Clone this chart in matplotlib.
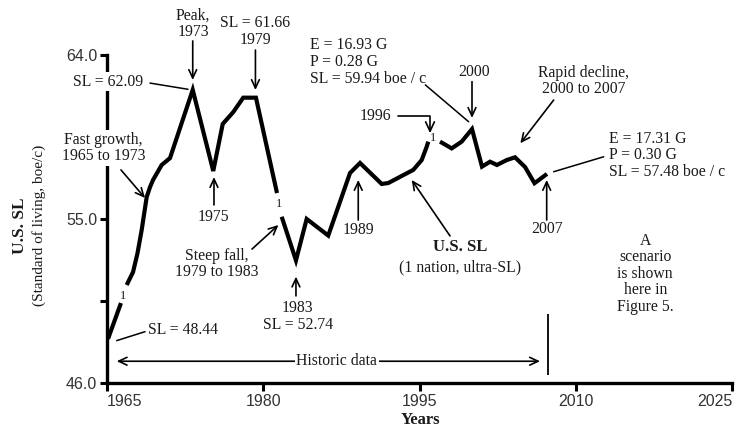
import numpy as np
import matplotlib
matplotlib.use("Agg")
import matplotlib.pyplot as plt

# ---------------- data ----------------
years = [1965.10, 1966.34, np.nan,
         1966.89, 1967.50, 1967.93, 1968.33, 1968.81, 1969.13, 1969.42,
         1970.25, 1971.05, 1973.23, 1975.20, 1976.11, 1977.12, 1978.08,
         1979.30, 1981.32, np.nan,
         1981.77, 1983.14, 1984.17, 1986.24, 1988.33, 1989.29, 1991.37,
         1992.00, 1994.40, 1995.21, 1995.69, 1995.84, np.nan,
         1996.97, 1998.09, 1999.05, 2000.04, 2001.00, 2001.77, 2002.44,
         2003.37, 2004.17, 2005.13, 2006.04, 2007.24]
sl = [48.44, 50.40, np.nan,
      51.39, 52.10, 53.14, 54.41, 56.21, 56.76, 57.15,
      57.97, 58.35, 62.09, 57.64, 60.22, 60.87, 61.66,
      61.66, 56.43, np.nan,
      55.13, 52.74, 55.01, 54.10, 57.53, 58.08, 56.93,
      56.98, 57.70, 58.24, 58.97, 59.25, np.nan,
      59.25, 58.88, 59.25, 59.94, 57.88, 58.15, 57.97,
      58.24, 58.39, 57.86, 56.97, 57.48]

# footnote "1" markers at the breaks of the curve
fn_years = [1966.51, 1981.49, 1996.32]
fn_sl = [50.79, 55.83, 59.43]

x_ticks = [1965, 1980, 1995, 2010, 2025]
x_tick_labels = ["1965", "1980", "1995", "2010", "2025"]
y_ticks = [46.0, 50.5, 55.0, 59.5, 64.0]
y_tick_labels = ["46.0", "", "55.0", "", "64.0"]
historic_end = 2007.31

# ---------------- figure ----------------
W, H = 744, 428
fig = plt.figure(figsize=(W / 100, H / 100), dpi=100)
fig.patch.set_facecolor("white")
ax = fig.add_axes([107 / W, 1 - 383.3 / H, (732 - 107) / W, (383.3 - 55) / H])

SERIF = ["Liberation Serif", "DejaVu Serif"]
SANS = ["Liberation Sans", "DejaVu Sans"]
TC = "#1a1a1a"
FS = 11.3

ax.plot(years, sl, color="black", lw=3.0, solid_joinstyle="miter",
        solid_capstyle="butt", zorder=4)

ax.set_xlim(1965, 2025)
ax.set_ylim(46, 64)
for s in ("top", "right"):
    ax.spines[s].set_visible(False)
for s in ("left", "bottom"):
    ax.spines[s].set_linewidth(2.4)
    ax.spines[s].set_color("black")
ax.set_xticks(x_ticks)
xl = ax.set_xticklabels(x_tick_labels, family=SANS, fontsize=11.5, color="#333333")
xl[0].set_ha("left")
xl[-1].set_ha("right")
ax.set_yticks(y_ticks)
ax.set_yticklabels(y_tick_labels, family=SANS, fontsize=11.5, color="#333333")
ax.tick_params(axis="both", direction="out", length=5, width=2.2, pad=2)
ax.tick_params(axis="x", length=6)
ax.patch.set_alpha(0)

# axis titles
fig.text(20 / W, 1 - 226 / H, "U.S. SL", rotation=90, ha="center", va="center",
         family=SERIF, fontsize=12.5, fontweight="bold", color=TC)
fig.text(39 / W, 1 - 225 / H, "(Standard of living, boe/c)", rotation=90,
         ha="center", va="center", family=SERIF, fontsize=11, color=TC)
fig.text(420 / W, 1 - 420 / H, "Years", ha="center", va="center",
         family=SERIF, fontsize=12, fontweight="bold", color=TC)

# ---------------- annotations ----------------
def txt(x, y, s, ha="center", box=False, **kw):
    kw.setdefault("fontsize", FS)
    t = ax.text(x, y, s, ha=ha, va="center", family=SERIF, color=TC,
                linespacing=1.05, clip_on=False, zorder=6, **kw)
    if box:
        t.set_bbox(dict(facecolor="white", edgecolor="none", pad=1.0))
    return t

AP = dict(arrowstyle="->,head_length=0.6,head_width=0.28", lw=1.2,
          color="black", shrinkA=0, shrinkB=0)
LP = dict(arrowstyle="-", lw=1.1, color="black", shrinkA=0, shrinkB=0)

def arrow(x0, y0, x1, y1):
    ax.annotate("", xy=(x1, y1), xytext=(x0, y0), arrowprops=AP,
                annotation_clip=False, zorder=5)

def leader(x0, y0, x1, y1):
    ax.annotate("", xy=(x1, y1), xytext=(x0, y0), arrowprops=LP,
                annotation_clip=False, zorder=5)

txt(1973.26, 65.70, "Peak,\n1973")
arrow(1973.23, 64.77, 1973.23, 62.63)

txt(1979.21, 65.29, "SL = 61.66\n1979")
arrow(1979.25, 64.27, 1979.25, 62.08)

txt(1965.12, 62.54, "SL = 62.09", box=True)
leader(1969.13, 62.46, 1972.78, 62.12)

txt(1964.64, 58.90, "Fast growth,\n1965 to 1973", box=True)
arrow(1966.34, 57.70, 1968.65, 56.16)

txt(1975.18, 55.12, "1975")
arrow(1975.27, 55.78, 1975.27, 57.31)

txt(1975.53, 52.54, "Steep fall,\n1979 to 1983")
arrow(1978.92, 53.36, 1981.46, 54.68)

txt(1983.31, 49.66, "1983\nSL = 52.74")
arrow(1983.14, 50.79, 1983.14, 51.85)

txt(1989.12, 54.41, "1989")
arrow(1989.12, 54.95, 1989.12, 57.15)

ax.annotate("1996", xy=(1996.01, 59.71), xytext=(1990.73, 60.66),
            ha="center", va="center", family=SERIF, fontsize=FS, color=TC,
            annotation_clip=False, zorder=6,
            arrowprops=dict(arrowstyle="->,head_length=0.6,head_width=0.28",
                            lw=1.2, color="black", shrinkA=3, shrinkB=0,
                            connectionstyle="angle,angleA=0,angleB=90,rad=0"))

txt(1984.49, 63.62, "E = 16.93 G\nP = 0.28 G\nSL = 59.94 boe / c", ha="left")
leader(1995.56, 62.36, 1999.72, 60.34)

txt(2000.2, 63.08, "2000")
arrow(2000.04, 62.54, 2000.04, 60.55)

txt(2010.76, 62.57, "Rapid decline,\n2000 to 2007")
arrow(2007.88, 61.53, 2004.68, 59.16)

txt(2013.16, 58.49, "E = 17.31 G\nP = 0.30 G\nSL = 57.48 boe / c", ha="left")
leader(2007.88, 57.60, 2012.68, 58.42)

txt(2007.24, 54.46, "2007")
arrow(2007.21, 54.95, 2007.21, 57.15)

txt(1998.92, 53.46, "U.S. SL", fontweight="bold", fontsize=12)
txt(1998.92, 52.36, "(1 nation, ultra-SL)")
arrow(1997.93, 54.08, 1994.25, 57.15)

txt(2016.67, 52.0, "A\nscenario\nis shown\nhere in\nFigure 5.")

txt(1972.32, 48.92, "SL = 48.44")
leader(1965.93, 48.34, 1968.65, 48.83)

ax.annotate("", xy=(1965.93, 47.21), xytext=(2006.57, 47.21),
            arrowprops=dict(arrowstyle="<->,head_length=0.6,head_width=0.28",
                            lw=1.2, color="black", shrinkA=0, shrinkB=0),
            annotation_clip=False, zorder=5)
txt(1987.05, 47.21, "Historic data", box=True)

ax.vlines(historic_end, 46.45, 49.8, color="black", lw=1.3, zorder=5)

for fx, fy in zip(fn_years, fn_sl):
    txt(fx, fy, "1", fontsize=9)

fig.savefig("out.png", dpi=100, facecolor="white")
